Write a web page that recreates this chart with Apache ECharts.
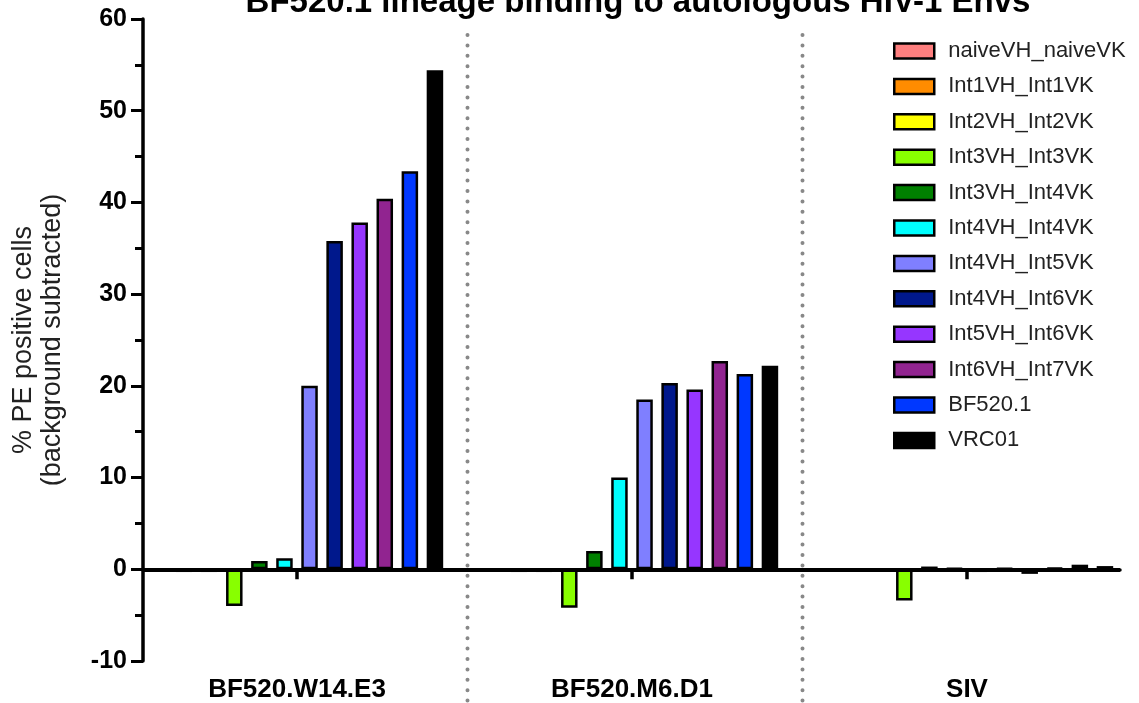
<!DOCTYPE html>
<html><head><meta charset="utf-8">
<script src="https://cdn.jsdelivr.net/npm/echarts@6/dist/echarts.min.js"></script>
<style>html,body{margin:0;padding:0;background:#fff}#c{width:1139px;height:703px}</style>
</head><body><div id="c"></div>
<script>
const categories = ['BF520.W14.E3', 'BF520.M6.D1', 'SIV'];
const seriesNames = ['naiveVH_naiveVK','Int1VH_Int1VK','Int2VH_Int2VK','Int3VH_Int3VK','Int3VH_Int4VK','Int4VH_Int4VK','Int4VH_Int5VK','Int4VH_Int6VK','Int5VH_Int6VK','Int6VH_Int7VK','BF520.1','VRC01'];
const naiveVH_naiveVK = [0, 0, 0];
const Int1VH_Int1VK = [-0.3, -0.3, -0.2];
const Int2VH_Int2VK = [-0.3, -0.3, 0];
const Int3VH_Int3VK = [-4.0, -4.2, -3.4];
const Int3VH_Int4VK = [0.9, 2.0, 0.3];
const Int4VH_Int4VK = [1.2, 10.0, 0.1];
const Int4VH_Int5VK = [20.0, 18.5, -0.3];
const Int4VH_Int6VK = [35.8, 20.3, 0.1];
const Int5VH_Int6VK = [37.8, 19.6, -0.5];
const Int6VH_Int7VK = [40.4, 22.7, 0.15];
const BF520_1 = [43.4, 21.3, 0.5];
const VRC01 = [54.4, 22.2, 0.35];
const yTicks = [-10, 0, 10, 20, 30, 40, 50, 60];

const values = [naiveVH_naiveVK, Int1VH_Int1VK, Int2VH_Int2VK, Int3VH_Int3VK, Int3VH_Int4VK, Int4VH_Int4VK, Int4VH_Int5VK, Int4VH_Int6VK, Int5VH_Int6VK, Int6VH_Int7VK, BF520_1, VRC01];
const colors = ['#FF7F7F','#FF8C00','#FFFF00','#88FF00','#008000','#00FFFF','#7F7FFF','#00188C','#9636FF','#912490','#0038FF','#000000'];

const FONT = '"Liberation Sans", Arial, sans-serif';
const chart = echarts.init(document.getElementById('c'), null, {renderer: 'canvas'});

const barSeries = seriesNames.map((n, i) => ({
  name: n, type: 'bar', xAxisIndex: 0, yAxisIndex: 0,
  data: values[i], barWidth: 16.5, barGap: '52%',
  itemStyle: {color: colors[i], borderColor: '#000', borderWidth: 2.5},
  emphasis: {disabled: true}, animation: false
}));

const yCommon = {type: 'value', min: yTicks[0], max: yTicks[yTicks.length - 1], interval: 10};

chart.setOption({
  animation: false,
  textStyle: {fontFamily: FONT},
  title: {
    text: 'BF520.1 lineage binding to autologous HIV-1 Envs',
    left: 633, top: -19, textAlign: 'center',
    textStyle: {fontFamily: FONT, fontWeight: 'bold', fontSize: 33, lineHeight: 33, color: '#000'}
  },
  legend: {
    data: seriesNames, orient: 'vertical', left: 888, top: 35,
    itemWidth: 40, itemHeight: 15, itemGap: 13.4, icon: 'rect',
    itemStyle: {borderColor: '#000', borderWidth: 2.5},
    textStyle: {fontFamily: FONT, fontSize: 22, lineHeight: 22, color: '#222', padding: [0, 0, 0, 9]},
    selectedMode: false
  },
  grid: [
    {left: 129.5, right: 4.5, top: 19, bottom: 42, outerBoundsMode: 'none', containLabel: false},
    {left: 143, right: 19, top: 19, bottom: 42, outerBoundsMode: 'none', containLabel: false}
  ],
  xAxis: [
    {type: 'category', gridIndex: 0, data: categories,
     axisLine: {show: false},
     axisTick: {show: true, alignWithLabel: true, length: 10, lineStyle: {color: '#000', width: 3.5}},
     axisLabel: {fontFamily: FONT, fontWeight: 'bold', fontSize: 26, color: '#000', margin: 16},
     splitLine: {show: false}},
    {type: 'value', gridIndex: 1, min: 0, max: 1,
     axisLine: {show: true, lineStyle: {color: '#000', width: 3.5}},
     axisTick: {show: false}, axisLabel: {show: false}, splitLine: {show: false}}
  ],
  yAxis: [
    Object.assign({}, yCommon, {gridIndex: 0, show: false, splitLine: {show: false}}),
    Object.assign({}, yCommon, {gridIndex: 1,
     name: '% PE positive cells\n(background subtracted)',
     nameLocation: 'middle', nameGap: 76,
     nameTextStyle: {fontFamily: FONT, fontSize: 27, lineHeight: 29, color: '#222'},
     axisLine: {show: true, lineStyle: {color: '#000', width: 3.5}},
     axisTick: {show: true, length: 12, lineStyle: {color: '#000', width: 3}},
     minorTick: {show: true, splitNumber: 2, length: 8, lineStyle: {color: '#000', width: 3}},
     axisLabel: {fontFamily: FONT, fontWeight: 'bold', fontSize: 25, color: '#000', margin: 16},
     splitLine: {show: false}})
  ],
  series: barSeries.concat([{
    name: 'zero', type: 'line', xAxisIndex: 1, yAxisIndex: 1, data: [], z: 10,
    markLine: {silent: true, symbol: 'none', label: {show: false},
      lineStyle: {color: '#000', width: 4, type: 'solid'}, data: [{yAxis: 0}]}
  }])
});

const px = categories.map(c => chart.convertToPixel({xAxisIndex: 0}, c));
const dividers = [];
for (let i = 0; i < px.length - 1; i++) {
  const x = (px[i] + px[i + 1]) / 2 + 3;
  dividers.push({type: 'line', silent: true, z: 0,
    shape: {x1: x, y1: 35, x2: x, y2: 703},
    style: {stroke: '#888', lineWidth: 4, lineDash: [0, 10.4], lineCap: 'round'}});
}
chart.setOption({graphic: dividers});
</script>
</body></html>
